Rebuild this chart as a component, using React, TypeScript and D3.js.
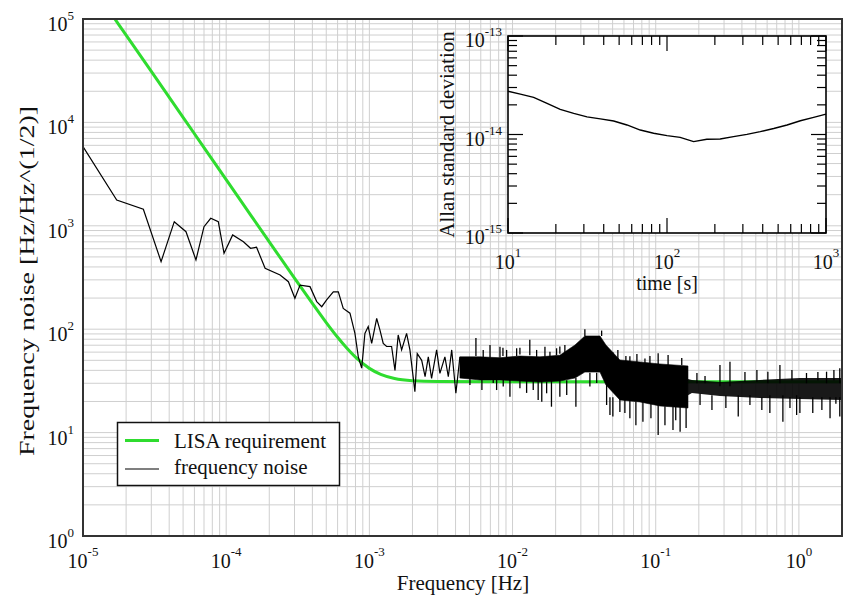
import React from "react";
import * as d3 from "d3";

// ---------- data ----------
const xMajorExp = [-5, -4, -3, -2, -1, 0];
const yMajorExp = [0, 1, 2, 3, 4, 5];

const lisaFreq = [1.0e-5, 1.5e-5, 2e-5, 3e-5, 5e-5, 7e-5, 1e-4, 1.5e-4, 2e-4, 3e-4, 4e-4, 5e-4, 6e-4, 7e-4, 8e-4, 1e-3, 1.2e-3, 1.5e-3, 2e-3, 3e-3, 1e-2, 1e-1, 2];
const lisaValue = [2.8e5, 1.24e5, 69900, 31100, 11200, 5710, 2800, 1243, 700, 312, 178, 116, 83.6, 65, 53.6, 41.8, 36.6, 33.4, 31.8, 31.2, 31, 31, 31];

const noiseFreq = [1.0e-5, 1.72e-5, 2.64e-5, 3.51e-5, 4.34e-5, 5.24e-5, 6.15e-5, 7.0e-5, 7.8e-5, 8.81e-5, 9.66e-5, 1.11e-4, 1.32e-4, 1.48e-4, 1.63e-4, 1.87e-4, 2.38e-4, 2.72e-4, 3.02e-4, 3.28e-4, 3.85e-4, 4.29e-4, 4.65e-4, 5.03e-4, 5.6e-4, 6.07e-4, 6.57e-4, 7.32e-4, 7.93e-4, 8.37e-4, 8.84e-4, 9.31e-4, 9.82e-4, 1.038e-3, 1.125e-3, 1.186e-3, 1.25e-3, 1.32e-3, 1.43e-3, 1.51e-3, 1.59e-3, 1.68e-3, 1.82e-3, 1.92e-3, 2.08e-3, 2.16e-3, 2.32e-3, 2.45e-3, 2.58e-3, 2.72e-3, 2.95e-3, 3.11e-3, 3.37e-3, 3.56e-3, 3.76e-3, 4.02e-3, 4.29e-3];
const noiseValue = [5830, 1778, 1445, 450, 1096, 877, 467, 980, 1183, 1096, 542, 815, 702, 606, 620, 388, 334, 288, 199, 267, 258, 185, 165, 192, 230, 230, 159, 143, 91, 54, 42, 91, 106, 73, 127, 98, 73, 68, 68, 40, 88, 63, 91, 63, 24.9, 58, 50, 34.7, 54, 33.5, 63, 37.4, 54, 34.7, 63, 24, 54];

// dense part of the noise spectrum below 0.17 Hz: core band (upper / lower edge)
const denseFreq = [4.29e-3, 5.92e-3, 8.17e-3, 1.126e-2, 1.553e-2, 2.14e-2, 2.73e-2, 3.2e-2, 4.08e-2, 4.49e-2, 5.62e-2, 7.76e-2, 0.107, 0.168];
const denseTop = [54, 54, 53, 55, 54, 56, 70.3, 86, 86, 70.3, 50.4, 48.2, 46.1, 44.1];
const denseBottom = [33.7, 32.3, 32.3, 31.5, 30.8, 31.5, 33.7, 38.5, 38.5, 28.9, 20.7, 19.8, 18.1, 17.3];
// sparser part above 0.17 Hz
const sparseFreq = [0.168, 0.179, 0.281, 0.534, 1.016, 2.0];
const sparseTop = [33, 32.3, 30.8, 32.3, 33.7, 33.7];
const sparseBottom = [23, 24.2, 22.6, 21.6, 21.1, 20.7];

// individual spikes out of the band
const spikeFreq = [5.55e-3, 8.57e-3, 1.126e-2, 1.32e-2, 2.14e-2, 3.2e-2, 4.19e-2, 5.02e-2, 6.6e-2, 8.41e-2, 0.104, 0.281, 0.33, 0.607, 0.737, 1.13, 1.56, 1.93,
  6.11e-3, 7.74e-3, 9.59e-3, 1.254e-2, 1.51e-2, 1.6e-2, 1.87e-2, 2.14e-2, 2.77e-2, 4.54e-2, 5.02e-2, 5.62e-2, 6.6e-2, 8.14e-2, 0.104, 0.132, 0.148, 0.163, 0.377, 0.455, 0.627, 0.773, 0.964, 1.016, 1.25, 1.65, 1.93,
  6.24e-3, 6.96e-3, 8.17e-3, 9.09e-3, 1.068e-2, 1.473e-2, 1.684e-2, 1.825e-2, 2.03e-2, 2.32e-2,
  5.04e-3, 7.33e-3, 8.61e-3, 1.126e-2, 1.395e-2, 1.73e-2, 2.39e-2, 3.47e-2, 3.87e-2,
  4.79e-2, 6.09e-2, 7.27e-2, 9.26e-2, 0.116, 0.138,
  4.71e-2, 5.44e-2, 6.19e-2, 7.39e-2, 9.11e-2, 0.122, 0.152,
  0.194, 0.221, 0.42, 0.509, 0.894, 1.357, 1.756,
  0.204, 0.247, 0.309, 0.551, 0.866, 1.447, 1.813];
const spikeFrom = [55, 55, 57, 56, 58, 86, 86, 45, 45, 45, 45, 28, 28, 30, 30, 30, 30, 30,
  33, 33, 33, 32, 32, 32, 32, 32, 34, 29, 22, 22, 21, 20, 19, 18, 18, 18, 23, 23, 23, 23, 23, 22, 22, 22, 22,
  53, 53, 53, 53, 55, 54, 54, 54, 56, 56,
  34, 33, 33, 32, 32, 31, 32, 38, 38,
  22, 21, 20, 19, 18, 18,
  46, 46, 46, 46, 46, 45, 45,
  30, 30, 31, 31, 32, 32, 32,
  24, 23, 23, 22, 22, 22, 22];
const spikeTo = [82, 66, 66, 79, 68, 100, 97, 60, 54.6, 52, 58.5, 45, 48.5, 38.8, 45, 37.7, 38.8, 41.9,
  25.8, 25.8, 22.2, 24.2, 20.7, 19.9, 17.8, 22.2, 17.8, 18.5, 14.3, 15.8, 13.8, 12.7, 9.5, 10.6, 10.2, 11.1, 14.3, 18.5, 15.5, 12.7, 14.8, 15.5, 15.5, 13.8, 14.3,
  63, 70.3, 67.7, 63, 65.4, 63, 67.7, 60.6, 65.4, 70.3,
  28.9, 30.1, 27.9, 26.8, 25.8, 24, 23.1, 27.9, 30.1,
  14.8, 15.5, 11.8, 13.8, 11.8, 13.2,
  60.2, 63, 55, 57.6, 55, 56.3, 52.7,
  37.7, 35.3, 38.5, 40.3, 40.3, 38.5, 40.3,
  18.5, 16.5, 17.3, 16.5, 17.3, 16.5, 19];

// inset: Allan deviation
const insetXExp = [1, 2, 3];
const insetYExp = [-15, -14, -13];
const allanTau = [10, 11.96, 14.5, 17.6, 21.3, 25.9, 31.4, 38.1, 46.2, 56.0, 67.9, 82.4, 100, 121, 147, 178, 216, 262, 318, 386, 469, 569, 690, 836, 1000];
const allanDev = [2.75e-14, 2.57e-14, 2.38e-14, 2.07e-14, 1.8e-14, 1.64e-14, 1.51e-14, 1.44e-14, 1.37e-14, 1.25e-14, 1.11e-14, 1.03e-14, 0.973e-14, 0.936e-14, 0.846e-14, 0.894e-14, 0.9e-14, 0.951e-14, 1.004e-14, 1.07e-14, 1.15e-14, 1.25e-14, 1.38e-14, 1.49e-14, 1.61e-14];

const FONT = "'Liberation Serif', 'Times New Roman', serif";
const GREEN = "#2fdc2f";

function logTicks(minExp: number, maxExp: number, lo: number, hi: number) {
  const out: { v: number; major: boolean }[] = [];
  for (let k = minExp; k <= maxExp; k++) {
    for (let i = 1; i <= 9; i++) {
      const v = i * Math.pow(10, k);
      if (v >= lo * 0.9999 && v <= hi * 1.0001) out.push({ v, major: i === 1 });
    }
  }
  return out;
}

export default function App() {
  const L = 83, R = 842, T = 19, B = 536;
  const x = d3.scaleLog().domain([1e-5, 2]).range([L, R]);
  const y = d3.scaleLog().domain([1, 1e5]).range([B, T]);

  const IL = 508, IR = 826, IT = 36, IB = 233;
  const ix = d3.scaleLog().domain([10, 1000]).range([IL, IR]);
  const iy = d3.scaleLog().domain([1e-15, 1e-13]).range([IB, IT]);

  const xGrid = logTicks(-5, 0, 1e-5, 2);
  const yGrid = logTicks(0, 5, 1, 1e5);

  const lisaLine = d3.line<number>().x((_, i) => x(lisaFreq[i])).y((d) => y(d)).curve(d3.curveMonotoneX)(lisaValue) || "";
  const noiseLine = d3.line<number>().x((_, i) => x(noiseFreq[i])).y((d) => y(d))(noiseValue) || "";
  const denseArea = d3.area<number>().x((_, i) => x(denseFreq[i])).y0((_, i) => y(denseBottom[i])).y1((d) => y(d))(denseTop) || "";
  const sparseArea = d3.area<number>().x((_, i) => x(sparseFreq[i])).y0((_, i) => y(sparseBottom[i])).y1((d) => y(d))(sparseTop) || "";
  const allanLine = d3.line<number>().x((_, i) => ix(allanTau[i])).y((d) => iy(d))(allanDev) || "";

  const ixTicks = logTicks(1, 3, 10, 1000);
  const iyTicks = logTicks(-15, -13, 1e-15, 1e-13);

  return (
    <svg width={847} height={596} style={{ position: "absolute", left: 0, top: 0, background: "#fff" }} fontFamily={FONT}>
      <defs>
        <clipPath id="plotClip">
          <rect x={L} y={T} width={R - L} height={B - T} />
        </clipPath>
      </defs>
      <rect x={0} y={0} width={847} height={596} fill="#fff" />
      {/* grid */}
      <g stroke="#cfcfcf" strokeWidth={1}>
        {xGrid.map((t, i) => (
          <line key={"gx" + i} x1={x(t.v)} x2={x(t.v)} y1={T} y2={B} />
        ))}
        {yGrid.map((t, i) => (
          <line key={"gy" + i} x1={L} x2={R} y1={y(t.v)} y2={y(t.v)} />
        ))}
      </g>

      {/* data */}
      <g clipPath="url(#plotClip)">
        <path d={lisaLine} fill="none" stroke={GREEN} strokeWidth={3} />
        <path d={denseArea} fill="#000" stroke="#000" strokeWidth={0.6} />
        <path d={sparseArea} fill="#000" fillOpacity={0.9} stroke="none" />
        <path d={noiseLine} fill="none" stroke="#000" strokeWidth={1.2} />
        <g stroke="#000" strokeWidth={1.3}>
          {spikeFreq.map((f, i) => (
            <line key={"sp" + i} x1={x(f)} x2={x(f)} y1={y(spikeFrom[i])} y2={y(spikeTo[i])} />
          ))}
        </g>
      </g>

      {/* frame */}
      <rect x={L} y={T} width={R - L} height={B - T} fill="none" stroke="#333" strokeWidth={2} />

      {/* tick labels */}
      {xMajorExp.map((e) => (
        <text key={"xl" + e} x={x(Math.pow(10, e))} y={568} textAnchor="middle" fontSize={20} fill="#111">
          10<tspan dy={-12} fontSize={13}>{e}</tspan>
        </text>
      ))}
      {yMajorExp.map((e) => (
        <text key={"yl" + e} x={74} y={y(Math.pow(10, e)) + 12} textAnchor="end" fontSize={20} fill="#111">
          10<tspan dy={-11} fontSize={13}>{e}</tspan>
        </text>
      ))}
      <text x={463} y={590} textAnchor="middle" fontSize={21} fill="#111">Frequency [Hz]</text>
      <text transform={`translate(34, 281) rotate(-90)`} textAnchor="middle" fontSize={22} fill="#111"
        textLength={350} lengthAdjust="spacingAndGlyphs">
        Frequency noise [Hz/Hz^(1/2)]
      </text>

      {/* legend */}
      <rect x={117.5} y={422.5} width={222} height={63} fill="#fff" stroke="#111" strokeWidth={1.5} />
      <line x1={125} x2={159} y1={440.5} y2={440.5} stroke={GREEN} strokeWidth={3} />
      <text x={174} y={447.5} fontSize={21} fill="#111">LISA requirement</text>
      <line x1={125} x2={159} y1={469} y2={469} stroke="#000" strokeWidth={1.2} />
      <text x={174} y={474} fontSize={21} fill="#111">frequency noise</text>

      {/* inset */}
      <rect x={IL} y={IT} width={IR - IL} height={IB - IT} fill="#fff" />
      <path d={allanLine} fill="none" stroke="#000" strokeWidth={1.4} />
      <g stroke="#000" strokeWidth={1.2}>
        {ixTicks.map((t, i) => {
          const len = t.major ? 15 : 9;
          const px = ix(t.v);
          return (
            <g key={"ixt" + i}>
              <line x1={px} x2={px} y1={IB} y2={IB - len} />
              <line x1={px} x2={px} y1={IT} y2={IT + len} />
            </g>
          );
        })}
        {iyTicks.map((t, i) => {
          const len = t.major ? 15 : 9;
          const py = iy(t.v);
          return (
            <g key={"iyt" + i}>
              <line x1={IL} x2={IL + len} y1={py} y2={py} />
              <line x1={IR} x2={IR - len} y1={py} y2={py} />
            </g>
          );
        })}
      </g>
      <rect x={IL} y={IT} width={IR - IL} height={IB - IT} fill="none" stroke="#000" strokeWidth={1.6} />
      {insetXExp.map((e) => (
        <text key={"ixl" + e} x={ix(Math.pow(10, e))} y={269} textAnchor="middle" fontSize={20} fill="#111">
          10<tspan dy={-12} fontSize={13}>{e}</tspan>
        </text>
      ))}
      {insetYExp.map((e) => (
        <text key={"iyl" + e} x={502} y={iy(Math.pow(10, e)) + 11} textAnchor="end" fontSize={20} fill="#111">
          10<tspan dy={-11} fontSize={13}>{e}</tspan>
        </text>
      ))}
      <text x={667} y={290} textAnchor="middle" fontSize={20} fill="#111">time [s]</text>
      <text transform={`translate(453.5, ${(IT + IB) / 2}) rotate(-90)`} textAnchor="middle" fontSize={21} fill="#111">
        Allan standard deviation
      </text>
    </svg>
  );
}
